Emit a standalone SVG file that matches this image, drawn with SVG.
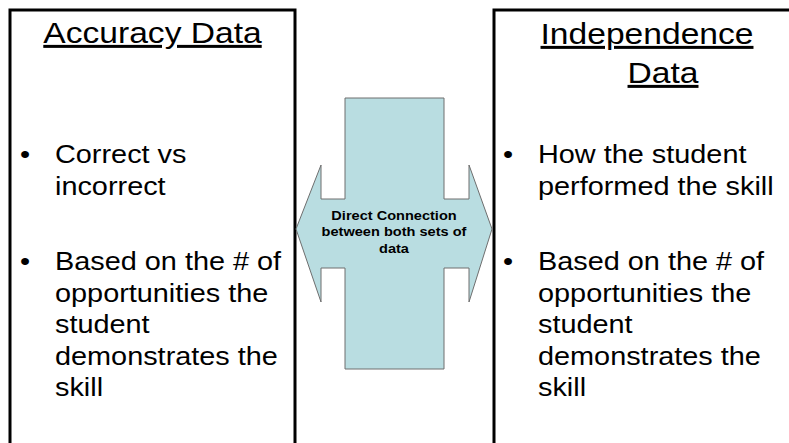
<svg xmlns="http://www.w3.org/2000/svg" width="789" height="443" viewBox="0 0 789 443">
  <style>
    .frame { fill: none; stroke: #000; stroke-width: 3; }
    .title { font-family: "Liberation Sans", Arial, sans-serif; font-size: 30px; fill: #000; text-anchor: middle; text-decoration: underline; }
    .body { font-family: "Liberation Sans", Arial, sans-serif; font-size: 26px; fill: #000; }
    .link { fill: #b9dde1; stroke: #6e6e6e; stroke-width: 1; }
    .linktext { font-family: "Liberation Sans", Arial, sans-serif; font-size: 13px; font-weight: bold; fill: #000; text-anchor: middle; }
  </style>
  <rect width="789" height="443" fill="#fff"/>

  <!-- Left panel: accuracy data -->
  <g id="accuracy">
    <path class="frame" d="M10,445 V10 H295 V445"/>
    <text class="title" transform="translate(152.5,43) scale(1.12,1)">Accuracy Data</text>
    <g class="body">
      <text transform="translate(20,163) scale(1.11,1)">•</text>
      <text transform="translate(55,163) scale(1.11,1)">Correct vs</text>
      <text transform="translate(55,194.5) scale(1.11,1)">incorrect</text>
      <text transform="translate(20,270) scale(1.11,1)">•</text>
      <text transform="translate(55,270) scale(1.11,1)">Based on the # of</text>
      <text transform="translate(55,301.5) scale(1.11,1)">opportunities the</text>
      <text transform="translate(55,333) scale(1.11,1)">student</text>
      <text transform="translate(55,364.5) scale(1.11,1)">demonstrates the</text>
      <text transform="translate(55,396) scale(1.11,1)">skill</text>
    </g>
  </g>

  <!-- Right panel: independence data -->
  <g id="independence">
    <path class="frame" d="M494,445 V10 H792"/>
    <text class="title" transform="translate(647,44) scale(1.12,1)">Independence</text>
    <text class="title" transform="translate(663,83) scale(1.12,1)">Data</text>
    <g class="body">
      <text transform="translate(503,163) scale(1.11,1)">•</text>
      <text transform="translate(538,163) scale(1.11,1)">How the student</text>
      <text transform="translate(538,194.5) scale(1.11,1)">performed the skill</text>
      <text transform="translate(503,270) scale(1.11,1)">•</text>
      <text transform="translate(538,270) scale(1.11,1)">Based on the # of</text>
      <text transform="translate(538,301.5) scale(1.11,1)">opportunities the</text>
      <text transform="translate(538,333) scale(1.11,1)">student</text>
      <text transform="translate(538,364.5) scale(1.11,1)">demonstrates the</text>
      <text transform="translate(538,396) scale(1.11,1)">skill</text>
    </g>
  </g>

  <!-- Connectors: double-headed cross arrow linking both panels -->
  <g id="connectors">
    <path class="link" d="M345,98 H444 V199 H469 V165 L492,229 L469,302 V268 H444 V369 H345 V268 H321 V302 L296,229 L321,165 V199 H345 Z"/>
    <text class="linktext" transform="translate(394,219.5) scale(1.12,1)">Direct Connection</text>
    <text class="linktext" transform="translate(394,236) scale(1.12,1)">between both sets of</text>
    <text class="linktext" transform="translate(394,252.5) scale(1.12,1)">data</text>
  </g>
</svg>
